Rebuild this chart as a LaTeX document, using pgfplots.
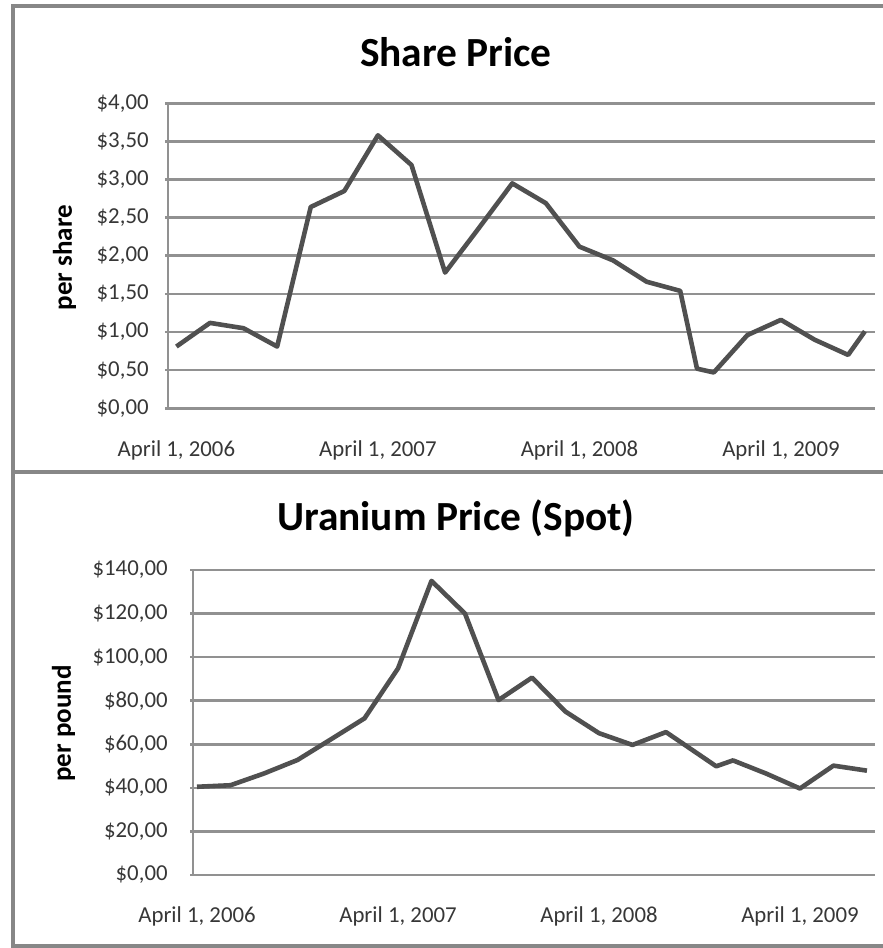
\documentclass[border=0pt]{standalone}
\usepackage{pgfplots}
\pgfplotsset{compat=1.18}
\usepackage{fontspec}
\setmainfont{Carlito}
\definecolor{lineC}{RGB}{80,80,80}
\definecolor{gridC}{RGB}{145,145,145}
\definecolor{frameC}{RGB}{135,135,135}
\definecolor{txtC}{RGB}{55,55,55}

\pgfplotstableread{
m v
0 0.81
2 1.12
4 1.05
6 0.81
8 2.64
10 2.85
12 3.58
14 3.19
16 1.78
18 2.36
20 2.95
22 2.69
24 2.12
26 1.94
28 1.66
30 1.54
31 0.52
32 0.47
34 0.96
36 1.16
38 0.90
40 0.70
41 1.01
}\sharedata

\pgfplotstableread{
m v
0 40.5
2 41.2
4 46.6
6 52.8
8 62.3
10 71.9
12 94.8
14 135.0
16 120.0
18 80.3
20 90.6
22 75.0
24 65.1
26 59.7
28 65.6
31 49.9
32 52.6
34 46.5
36 39.7
38 50.2
40 47.9
}\uraniumdata

\pgfplotsset{
  chartax/.style={
    scale only axis,
    axis y line*=left,
    axis x line*=bottom,
    x axis line style={draw=none},
    y axis line style={draw=gridC, line width=1.3pt},
    ymajorgrids,
    grid style={draw=gridC, line width=1.3pt},
    xtick={0,12,24,36},
    xticklabels={April 1\rlap{,}\phantom{,} 2006,April 1\rlap{,}\phantom{,} 2007,April 1\rlap{,}\phantom{,} 2008,April 1\rlap{,}\phantom{,} 2009},
    xtick style={draw=none},
    ytick style={draw=gridC, line width=1.3pt},
    tick align=outside,
    major tick length=1.5pt,
    tick label style={font=\fontsize{11.4}{13}\selectfont, text=txtC},
    xticklabel style={anchor=north, inner sep=0pt, yshift=-14.5pt},
    yticklabel style={anchor=east, inner sep=0pt, xshift=-8pt},
    clip=false,
  },
}

\begin{document}
\begin{tikzpicture}
\useasboundingbox (0,0) rectangle (441.5pt,474pt);
% frame
\draw[frameC, line width=1.8pt] (441.5pt,471pt) -- (6.5pt,471pt) -- (6.5pt,1pt) -- (441.5pt,1pt);
\draw[frameC, line width=2.2pt] (6.5pt,238pt) -- (441.5pt,238pt);

% top chart
\begin{axis}[chartax,
  at={(84pt,269.85pt)}, anchor=south west,
  width=353.5pt, height=152.5pt,
  xmin=-0.5, xmax=41.6,
  ymin=0, ymax=4,
  ytick={0,0.5,1,1.5,2,2.5,3,3.5,4},
  yticklabels={{\$0,00},{\$0,50},{\$1,00},{\$1,50},{\$2,00},{\$2,50},{\$3,00},{\$3,50},{\$4,00}},
]
\addplot[lineC, line width=2.3pt, line join=round] table[x=m,y=v] {\sharedata};
\end{axis}

% bottom chart
\begin{axis}[chartax,
  at={(96.5pt,36.5pt)}, anchor=south west,
  width=341pt, height=152.5pt,
  xmin=-0.24, xmax=40.48,
  ymin=0, ymax=140,
  ytick={0,20,40,60,80,100,120,140},
  yticklabels={{\$0,00},{\$20,00},{\$40,00},{\$60,00},{\$80,00},{\$100,00},{\$120,00},{\$140,00}},
  xticklabel style={yshift=0.5pt},
  yticklabel style={xshift=-3pt},
]
\addplot[lineC, line width=2.3pt, line join=round] table[x=m,y=v] {\uraniumdata};
\end{axis}

% titles
\node[font=\fontsize{20.7}{24}\selectfont\bfseries, text=black] at (228pt,448pt) {Share Price};
\node[font=\fontsize{20.7}{24}\selectfont\bfseries, text=black] at (228pt,215pt) {Uranium Price (Spot)};
% axis titles
\node[font=\fontsize{13.5}{16}\selectfont\bfseries, text=black, rotate=90] at (32.3pt,345.2pt) {per share};
\node[font=\fontsize{13.5}{16}\selectfont\bfseries, text=black, rotate=90] at (31.8pt,112.2pt) {per pound};
\end{tikzpicture}
\end{document}
